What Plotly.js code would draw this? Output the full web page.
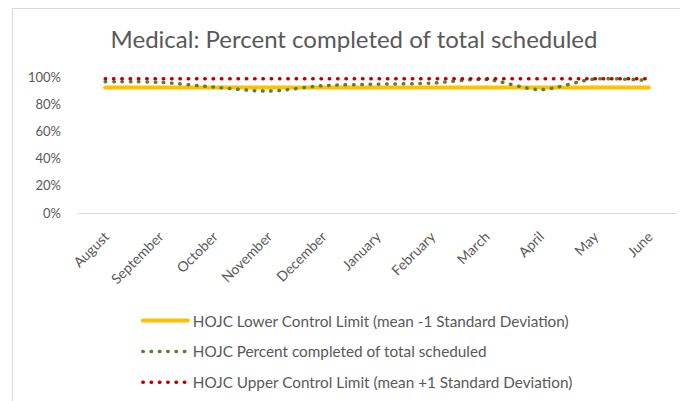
<!DOCTYPE html>
<html>
<head>
<meta charset="utf-8">
<script src="https://cdn.plot.ly/plotly-3.0.1.min.js"></script>
<style>
  html, body { margin: 0; padding: 0; background: #fff; overflow: hidden; }
  #chart { width: 680px; height: 401px; }
  #frame { position: absolute; left: 12px; top: 8px; width: 700px; height: 420px; border: 1px solid #d9d9d9; pointer-events: none; }
  path.js-line { stroke-linecap: round !important; }
  .legendlines path { stroke-linecap: round !important; }
</style>
</head>
<body>
<div id="chart"></div>
<div id="frame"></div>
<script>
const months = ["August","September","October","November","December","January","February","March","April","May","June"];
const lowerLimit = [0.923,0.923,0.923,0.923,0.923,0.923,0.923,0.923,0.923,0.923,0.923];
const percentCompleted = [0.965,0.961,0.926,0.896,0.936,0.947,0.955,0.982,0.907,0.985,0.974];
const upperLimit = [0.987,0.987,0.987,0.987,0.987,0.987,0.987,0.987,0.987,0.987,0.987];

const names = [
  "HOJC Lower Control Limit (mean -1 Standard Deviation)",
  "HOJC Percent completed of total scheduled",
  "HOJC Upper Control Limit (mean +1 Standard Deviation)"
];

const traces = [
  {x: months, y: lowerLimit, name: names[0], type: "scatter", mode: "lines",
   line: {color: "#FFC000", width: 4}, legendgroup: "a"},
  {x: months, y: percentCompleted, name: names[1], type: "scatter", mode: "lines",
   line: {color: "#538135", width: 3.5, dash: "0.5px,7.8px", shape: "spline", smoothing: 0.8}, legendgroup: "b"},
  {x: months, y: upperLimit, name: names[2], type: "scatter", mode: "lines",
   line: {color: "#C00000", width: 3.5, dash: "0.5px,7.8px"}, legendgroup: "c"}
];

const font = "Lato, 'Open Sans', sans-serif";
const layout = {
  width: 680, height: 401,
  margin: {l: 78, r: 4, t: 77, b: 187},
  paper_bgcolor: "#fff", plot_bgcolor: "#fff",
  font: {family: font, color: "#595959", size: 12},
  title: {text: "Medical: Percent completed of total scheduled", font: {family: font, size: 24, color: "#595959"},
          x: 354 / 680, xanchor: "center", y: 1 - 40 / 401, yanchor: "middle", xref: "container", yref: "container"},
  showlegend: true,
  legend: {orientation: "v", x: 0.1, xanchor: "left", y: -0.658, yanchor: "top",
           font: {family: font, size: 15.3, color: "#595959"}, tracegroupgap: 8, itemwidth: 45,
           bgcolor: "rgba(0,0,0,0)"},
  xaxis: {type: "category", range: [-0.5, 10.5], showgrid: false, zeroline: false,
          showline: true, linecolor: "#d9d9d9", linewidth: 1, ticks: "",
          tickangle: -45, ticklabelstandoff: 9, tickfont: {family: font, size: 14, color: "#595959"}, fixedrange: true},
  yaxis: {range: [0, 1], tickvals: [0,0.2,0.4,0.6,0.8,1], ticktext: ["0%","20%","40%","60%","80%","100%"],
          showgrid: false, zeroline: false, showline: false, ticks: "",
          ticklabelstandoff: 16, tickfont: {family: font, size: 13, color: "#595959"}, fixedrange: true}
};

Plotly.newPlot("chart", traces, layout, {displayModeBar: false, staticPlot: true});
</script>
</body>
</html>
